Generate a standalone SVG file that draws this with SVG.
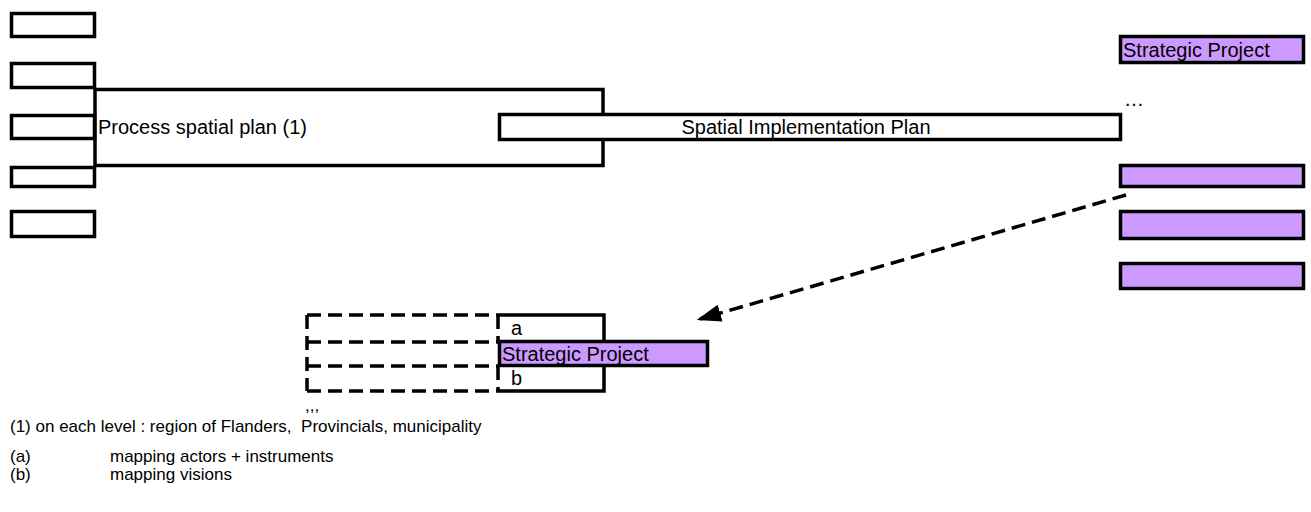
<svg xmlns="http://www.w3.org/2000/svg" width="1311" height="512" viewBox="0 0 1311 512">
  <style>
    .box { fill: #ffffff; stroke: #000000; stroke-width: 3.5; }
    .open { fill: none; stroke: #000000; stroke-width: 3.5; }
    .sp { fill: #cc99ff; stroke: #000000; stroke-width: 3.5; }
    .dash { fill: none; stroke: #000000; stroke-width: 3.5; stroke-dasharray: 14 7; }
    .lbl { font-family: "Liberation Sans", Arial, sans-serif; font-size: 20px; fill: #000000; }
    .note { font-family: "Liberation Sans", Arial, sans-serif; font-size: 17px; fill: #000000; white-space: pre; }
  </style>
  <defs>
    <marker id="arrow" markerWidth="7" markerHeight="5" refX="6" refY="2.5" orient="auto" markerUnits="strokeWidth">
      <path d="M0,0 L7,2.5 L0,5 Z" fill="#000000"/>
    </marker>
  </defs>

  <rect width="1311" height="512" fill="#ffffff"/>

  <!-- level boxes on the left -->
  <g id="level-1"><rect class="box" x="11.5" y="13.5" width="83" height="23"/></g>
  <g id="level-2"><rect class="box" x="11.5" y="63.5" width="83" height="24"/></g>
  <g id="level-3"><rect class="box" x="11.5" y="115.5" width="83" height="23"/></g>
  <g id="level-4"><rect class="box" x="11.5" y="167.5" width="83" height="19"/></g>
  <g id="level-5"><rect class="box" x="11.5" y="211.5" width="83" height="25"/></g>

  <!-- process spatial plan -->
  <g id="process-spatial-plan">
    <rect class="open" x="95" y="89.5" width="508" height="76"/>
    <text class="lbl" x="98" y="134">Process spatial plan (1)</text>
  </g>

  <!-- spatial implementation plan -->
  <g id="spatial-implementation-plan">
    <rect class="box" x="499.5" y="114.5" width="621" height="25"/>
    <text class="lbl" x="806" y="134" text-anchor="middle">Spatial Implementation Plan</text>
  </g>

  <!-- strategic projects on the right -->
  <g id="strategic-project-1">
    <rect class="sp" x="1120.5" y="36.5" width="183" height="26"/>
    <text class="lbl" x="1123" y="57">Strategic Project</text>
  </g>
  <g id="ellipsis"><text class="lbl" x="1124" y="106">…</text></g>
  <g id="strategic-project-2"><rect class="sp" x="1120.5" y="165.5" width="183" height="21"/></g>
  <g id="strategic-project-3"><rect class="sp" x="1120.5" y="211.5" width="183" height="27"/></g>
  <g id="strategic-project-4"><rect class="sp" x="1120.5" y="263.5" width="183" height="25"/></g>

  <!-- detail of one strategic project: dashed rows on the left, solid frame on the right -->
  <g id="detail">
    <path class="dash" d="M307,315 H498 M307,342 H498 M307,366 H498 M307,391 H498"/>
    <path class="dash" d="M307,315 V391 M498,315 V342 M498,366 V391"/>
    <path class="open" d="M498,315 H604 V391 H498"/>
    <text class="lbl" x="511" y="335">a</text>
    <text class="lbl" x="511" y="385">b</text>
  </g>
  <g id="strategic-project-detail">
    <rect class="sp" x="499.5" y="341.5" width="208" height="24"/>
    <text class="lbl" x="502" y="361">Strategic Project</text>
  </g>
  <g id="commas"><text class="note" x="305" y="411">,,,</text></g>

  <!-- connectors -->
  <g id="connectors">
    <line class="dash" x1="1126" y1="195" x2="700" y2="319" marker-end="url(#arrow)"/>
  </g>

  <!-- notes -->
  <g id="notes">
    <text class="note" x="10" y="432">(1) on each level : region of Flanders,  Provincials, municipality</text>
    <text class="note" x="10" y="462">(a)</text>
    <text class="note" x="110" y="462">mapping actors + instruments</text>
    <text class="note" x="10" y="480">(b)</text>
    <text class="note" x="110" y="480">mapping visions</text>
  </g>
</svg>
